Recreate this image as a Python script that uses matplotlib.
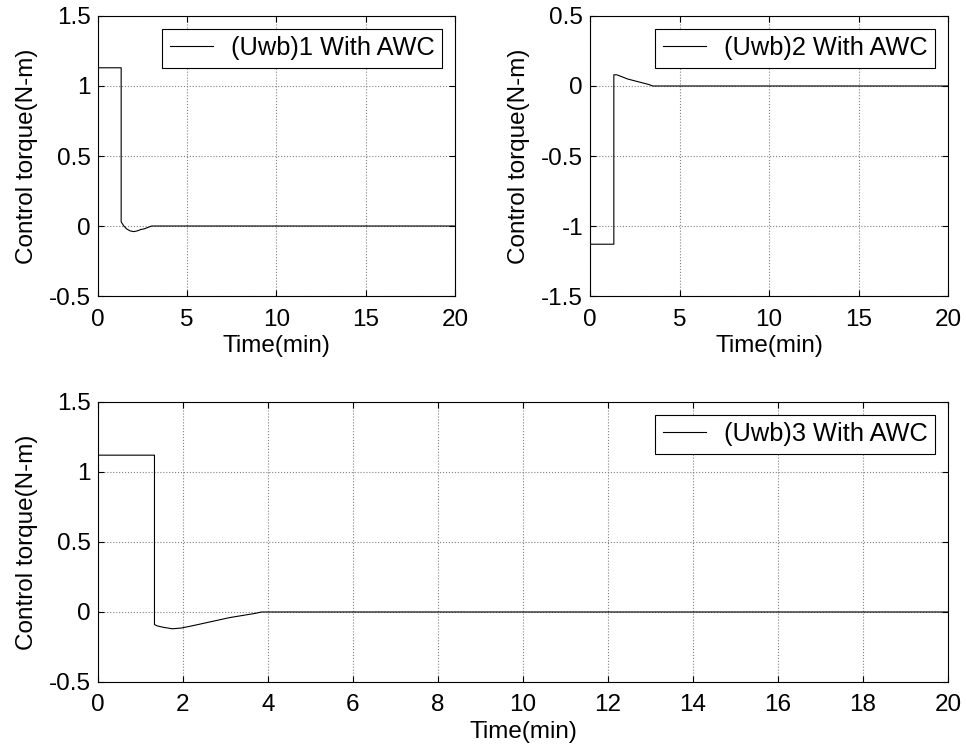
import matplotlib.pyplot as plt

plt.rcParams['font.family'] = ['Liberation Sans', 'DejaVu Sans']
plt.rcParams['font.size'] = 17.5

# (Uwb)1
t1 = [0, 1.3, 1.3, 1.45, 1.6, 1.8, 2.0, 2.2, 2.4, 2.6, 2.8, 3.0, 20]
u1 = [1.13, 1.13, 0.03, 0.0, -0.02, -0.035, -0.04, -0.035, -0.025, -0.02, -0.01, 0.0, 0.0]

# (Uwb)2
t2 = [0, 1.33, 1.33, 1.5, 1.8, 2.1, 2.4, 2.7, 3.0, 3.3, 3.5, 20]
u2 = [-1.13, -1.13, 0.08, 0.08, 0.065, 0.05, 0.04, 0.03, 0.02, 0.01, 0.0, 0.0]

# (Uwb)3
t3 = [0, 1.33, 1.33, 1.4, 1.55, 1.75, 1.95, 2.2, 2.5, 2.8, 3.1, 3.4, 3.7, 3.85, 20]
u3 = [1.12, 1.12, -0.09, -0.10, -0.11, -0.12, -0.115, -0.10, -0.08, -0.06, -0.04, -0.025, -0.01, 0.0, 0.0]

fig = plt.figure(figsize=(9.66, 7.54), dpi=100)
ax1 = fig.add_axes([0.1014, 0.6074, 0.3696, 0.3714])
ax2 = fig.add_axes([0.6108, 0.6074, 0.3706, 0.3714])
ax3 = fig.add_axes([0.1014, 0.0955, 0.8799, 0.3714])

setups = [
    (ax1, t1, u1, '(Uwb)1 With AWC', (-0.5, 1.5), [-0.5, 0, 0.5, 1, 1.5], ['-0.5', '0', '0.5', '1', '1.5'], [0, 5, 10, 15, 20]),
    (ax2, t2, u2, '(Uwb)2 With AWC', (-1.5, 0.5), [-1.5, -1, -0.5, 0, 0.5], ['-1.5', '-1', '-0.5', '0', '0.5'], [0, 5, 10, 15, 20]),
    (ax3, t3, u3, '(Uwb)3 With AWC', (-0.5, 1.5), [-0.5, 0, 0.5, 1, 1.5], ['-0.5', '0', '0.5', '1', '1.5'], list(range(0, 21, 2))),
]

for ax, t, u, lab, ylim, yt, ytl, xt in setups:
    ax.plot(t, u, color='black', linewidth=0.8, label=lab)
    ax.set_xlim(0, 20)
    ax.set_ylim(*ylim)
    ax.set_xticks(xt)
    ax.set_yticks(yt)
    ax.set_yticklabels(ytl)
    ax.grid(True, linestyle=':', color='gray', linewidth=0.8)
    ax.tick_params(direction='in', top=True, right=True, length=4)
    ax.tick_params(axis='x', pad=9)
    ax.tick_params(axis='y', pad=5)
    ax.set_xlabel('Time(min)', labelpad=3)
    ax.set_ylabel('Control torque(N-m)', labelpad=8)
    for s in ax.spines.values():
        s.set_linewidth(0.8)
    leg = ax.legend(loc='upper right', fancybox=False, framealpha=1, edgecolor='black',
                    fontsize=18.3, handlelength=1.7, handletextpad=0.7,
                    borderpad=0.3, borderaxespad=0.5)
    leg.get_frame().set_linewidth(0.8)

fig.savefig('out.png', dpi=100)
